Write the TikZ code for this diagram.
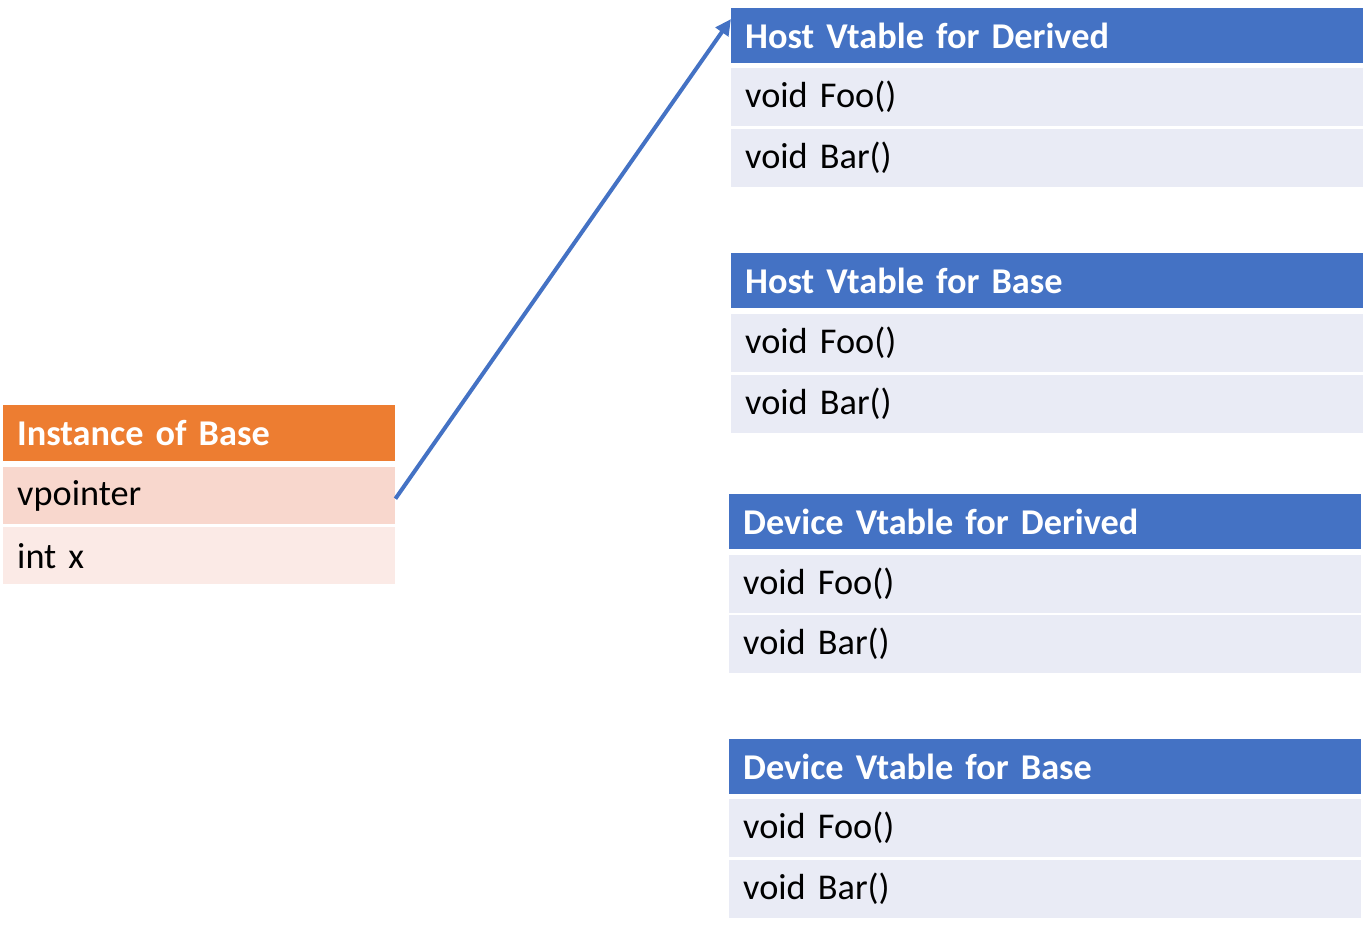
\documentclass[tikz,border=0pt]{standalone}
\usepackage{fontspec}
\setmainfont{Carlito}[WordSpace=0.8]
\usetikzlibrary{arrows.meta}
\definecolor{hblue}{HTML}{4472C4}
\definecolor{rblue}{HTML}{E9EBF5}
\definecolor{horange}{HTML}{ED7D31}
\definecolor{rorange1}{HTML}{F8D7CD}
\definecolor{rorange2}{HTML}{FBEAE6}
\tikzset{
  cell/.style={rectangle, anchor=north west, inner xsep=14pt, inner ysep=0pt, align=left,
    font=\fontsize{36.3}{42}\selectfont},
  vt/.style={cell, minimum width=632pt, text width=604pt},
  inst/.style={cell, minimum width=392pt, text width=364pt},
  vhead/.style={vt, fill=hblue, text=white, minimum height=55pt, font=\fontsize{36.3}{42}\selectfont\bfseries},
  vrow/.style={vt, fill=rblue, minimum height=58pt},
  ihead/.style={inst, fill=horange, text=white, minimum height=56pt, font=\fontsize{36.3}{42}\selectfont\bfseries},
  irow/.style={inst, minimum height=57pt},
  ptr/.style={draw=hblue, line width=4pt, -{Triangle[length=16pt,width=15pt]}}
}
\begin{document}
\begin{tikzpicture}[x=1pt,y=-1pt]
\useasboundingbox (0,0) rectangle (1368,933);
% instance
\node[ihead] (ih) at (3,405) {Instance of Base};
\node[irow, fill=rorange1] (vp) at (3,467) {vpointer};
\node[irow, fill=rorange2] (ix) at (3,527) {int x};
% table 1
\node[vhead] (t1h) at (731,8) {Host Vtable for Derived};
\node[vrow] (t1a) at (731,68) {void Foo()};
\node[vrow] (t1b) at (731,129) {void Bar()};
% table 2
\node[vhead] (t2h) at (731,253) {Host Vtable for Base};
\node[vrow] (t2a) at (731,314) {void Foo()};
\node[vrow] (t2b) at (731,375) {void Bar()};
% table 3
\node[vhead] (t3h) at (729,494) {Device Vtable for Derived};
\node[vrow] (t3a) at (729,555) {void Foo()};
\node[vrow] (t3b) at (729,615) {void Bar()};
% table 4
\node[vhead] (t4h) at (729,739) {Device Vtable for Base};
\node[vrow] (t4a) at (729,799) {void Foo()};
\node[vrow] (t4b) at (729,860) {void Bar()};
% arrow
\coordinate (tip) at ([yshift=-11pt]t1h.north west);
\draw[ptr] ([yshift=-3pt]vp.east) -- (tip);
\end{tikzpicture}
\end{document}
